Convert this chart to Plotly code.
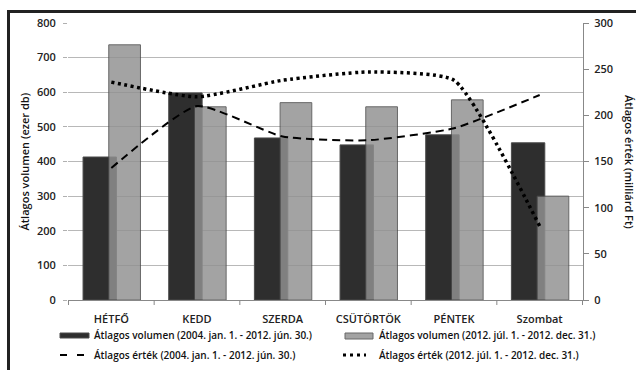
import plotly.graph_objects as go

days = ["HÉTFŐ", "KEDD", "SZERDA", "CSÜTÖRTÖK", "PÉNTEK", "Szombat"]
vol_old = [413, 598, 468, 448, 477, 454]
vol_new = [737, 558, 570, 558, 578, 300]
val_old = [143, 210, 177, 173, 186, 222]
val_new = [236, 220, 238, 247, 238, 80]

name_vol_old = "Átlagos volumen (2004. jan. 1. - 2012. jún. 30.)"
name_vol_new = "Átlagos volumen (2012. júl. 1. - 2012. dec. 31.)"
name_val_old = "Átlagos érték (2004. jan. 1. - 2012. jún. 30.)"
name_val_new = "Átlagos érték (2012. júl. 1. - 2012. dec. 31.)"

FONT = "Open Sans"
W, H = 636, 370
L, R, T, B = 68, 53, 23, 70
pw, ph = W - L - R, H - T - B


def px(x):
    """pixel column -> paper x"""
    return (x - L) / pw


def py(y):
    """pixel row -> paper y"""
    return (T + ph - y) / ph


DARK = "#2e2e2e"
LIGHT = "#919191"
EDGE = "#4a4a4a"
DASH = "8px,5px"
DOTS = "3px,3.5px"

fig = go.Figure()
fig.add_trace(go.Bar(
    x=days, y=vol_old, name=name_vol_old,
    marker=dict(color=DARK, line=dict(color=EDGE, width=1)),
    width=0.39, offset=-0.33,
))
fig.add_trace(go.Bar(
    x=days, y=vol_new, name=name_vol_new,
    marker=dict(color=LIGHT, line=dict(color=EDGE, width=1)),
    opacity=0.83, width=0.37, offset=-0.03,
))
fig.add_trace(go.Scatter(
    x=days, y=val_old, name=name_val_old, yaxis="y2", mode="lines",
    line=dict(color="black", width=2, dash=DASH, shape="spline", smoothing=0.5),
))
fig.add_trace(go.Scatter(
    x=days, y=val_new, name=name_val_new, yaxis="y2", mode="lines",
    line=dict(color="black", width=3.5, dash=DOTS, shape="spline", smoothing=0.5),
))

tickfont = dict(family=FONT, size=11, color="#222", weight=600)

fig.update_layout(
    width=W, height=H,
    margin=dict(l=L, r=R, t=T, b=B, autoexpand=False),
    paper_bgcolor="white", plot_bgcolor="white",
    barmode="overlay", showlegend=False,
    font=dict(family=FONT, size=11, color="#111"),
    xaxis=dict(
        showgrid=False, showline=True, linecolor="#888", linewidth=1,
        ticks="", tickfont=tickfont, fixedrange=True, automargin=False,
        ticklabelstandoff=9,
    ),
    yaxis=dict(
        range=[0, 800], dtick=100, showgrid=True, gridcolor="#b8b8b8",
        gridwidth=1, zeroline=False, showline=False, tickfont=tickfont,
        ticks="outside", ticklen=4, tickcolor="#b0b0b0",
        ticklabelstandoff=5, automargin=False,
    ),
    yaxis2=dict(
        range=[0, 300], dtick=50, overlaying="y", side="right",
        showgrid=False, zeroline=False, showline=True, linecolor="#888",
        ticks="outside", ticklen=5, tickcolor="#888", tickfont=tickfont,
        ticklabelstandoff=3, automargin=False,
    ),
)

# category separators on the x axis
for i in range(len(days) + 1):
    fig.add_shape(type="line", xref="x", yref="paper",
                  x0=i - 0.5, x1=i - 0.5, y0=0, y1=-5 / ph,
                  line=dict(color="#888", width=1))

# axis titles
titlefont = dict(family=FONT, size=11, color="#111", weight=600)
fig.add_annotation(text="Átlagos volumen (ezer db)", xref="paper", yref="paper",
                   x=px(24), y=0.5, xanchor="center", yanchor="middle",
                   textangle=-90, showarrow=False, font=titlefont)
fig.add_annotation(text="Átlagos érték (milliárd Ft)", xref="paper", yref="paper",
                   x=px(630), y=py(162), xanchor="center", yanchor="middle",
                   textangle=90, showarrow=False, font=titlefont)

# legend, laid out in two columns below the plot
legfont = dict(family=FONT, size=10, color="#111", weight=600)
rows = [335, 355]
cols = [(60, 92), (343, 377)]
fig.add_shape(type="rect", xref="paper", yref="paper",
              x0=px(60), x1=px(89), y0=py(338), y1=py(333),
              fillcolor=DARK, line=dict(color=EDGE, width=1))
fig.add_shape(type="rect", xref="paper", yref="paper",
              x0=px(345), x1=px(373), y0=py(339), y1=py(333),
              fillcolor=LIGHT, opacity=0.83, line=dict(color=EDGE, width=1))
fig.add_shape(type="line", xref="paper", yref="paper",
              x0=px(60), x1=px(84), y0=py(355), y1=py(355),
              line=dict(color="black", width=2, dash="7px,10px"))
fig.add_shape(type="line", xref="paper", yref="paper",
              x0=px(343), x1=px(366), y0=py(355), y1=py(355),
              line=dict(color="black", width=3, dash="3px,4px"))
labels = [(name_vol_old, 0, 0), (name_vol_new, 0, 1),
          (name_val_old, 1, 0), (name_val_new, 1, 1)]
for text, r, c in labels:
    fig.add_annotation(text=text, xref="paper", yref="paper",
                       x=px(cols[c][1]), y=py(rows[r]), xanchor="left",
                       yanchor="middle", showarrow=False, font=legfont)

# outer frame: left and top edges drawn as one open path
frame_path = (f"M {px(8.5):.5f},{py(H + 5):.5f} "
              f"L {px(8.5):.5f},{py(11.5):.5f} "
              f"L {px(W + 5):.5f},{py(11.5):.5f}")
fig.add_shape(type="path", xref="paper", yref="paper", path=frame_path,
              line=dict(color="#222", width=3), layer="above")

fig.write_html("out.html", config=dict(displayModeBar=False))
